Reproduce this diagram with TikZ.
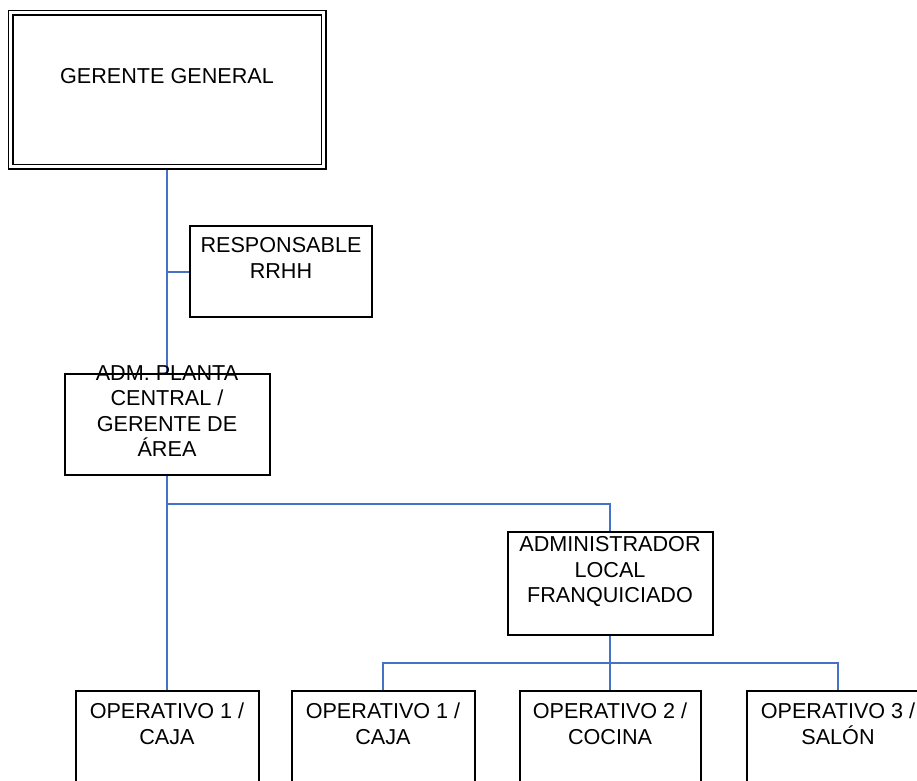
\documentclass[tikz,border=0pt]{standalone}
\usepackage{fontspec}
\setmainfont{Liberation Sans}
\usetikzlibrary{backgrounds}
\definecolor{linkblue}{HTML}{4472C4}
\tikzset{
  x=1pt, y=-1pt,
  box/.style={draw=black, line width=2pt, rectangle, inner sep=0pt},
  label text/.style={align=center, inner sep=0pt, anchor=base,
    font=\fontsize{21.6}{25.5}\selectfont},
  link/.style={draw=linkblue, line width=2pt},
}
\begin{document}
\begin{tikzpicture}
  \useasboundingbox (0,0) rectangle (917,780);
  \clip (0,0) rectangle (917,780);

  % boxes
  \node[box, double, double distance=2.8pt, line width=1.6pt,
        minimum width=313pt, minimum height=154pt] (gg) at (167,89.5) {};
  \node[box, minimum width=182pt, minimum height=91pt] (rrhh) at (281,271.5) {};
  \node[box, minimum width=205pt, minimum height=101pt] (adm) at (167,424.5) {};
  \node[box, minimum width=205pt, minimum height=103pt] (admin) at (610,583.5) {};
  \node[box, minimum width=183pt, minimum height=120pt] (op1) at (167,751) {};
  \node[box, minimum width=183pt, minimum height=120pt] (op2) at (383,751) {};
  \node[box, minimum width=181pt, minimum height=120pt] (op3) at (610,751) {};
  \node[box, minimum width=183pt, minimum height=120pt] (op4) at (838,751) {};

  % texts, placed by the baseline of their last line
  \node[label text] (ggt) at (167,83) {GERENTE GENERAL};
  \node[label text] (rrhht) at (281,278) {RESPONSABLE\\RRHH};
  \node[label text] (admt) at (167,456.5) {ADM. PLANTA\\CENTRAL /\\GERENTE DE\\ÁREA};
  \node[label text] (admint) at (610,602.5) {ADMINISTRADOR\\LOCAL\\FRANQUICIADO};
  \node[label text] (op1t) at (167,744) {OPERATIVO 1 /\\CAJA};
  \node[label text] (op2t) at (383,744) {OPERATIVO 1 /\\CAJA};
  \node[label text] (op3t) at (610,744) {OPERATIVO 2 /\\COCINA};
  \node[label text] (op4t) at (838,744) {OPERATIVO 3 /\\SALÓN};

  % junction points of the connectors
  \coordinate (j1) at (167,504);
  \coordinate (j2) at (610,663);

  % connectors
  \begin{scope}[on background layer]
    \draw[link] (gg.south) -- (adm.north);
    \draw[link] (rrhh.west) -- (rrhh.west -| gg.south);
    \draw[link] (adm.south) -- (op1.north);
    \draw[link] (j1) -| (admin.north);
    \draw[link] (admin.south) -- (op3.north);
    \draw[link] (op2.north) |- (j2) -| (op4.north);
  \end{scope}
\end{tikzpicture}
\end{document}
